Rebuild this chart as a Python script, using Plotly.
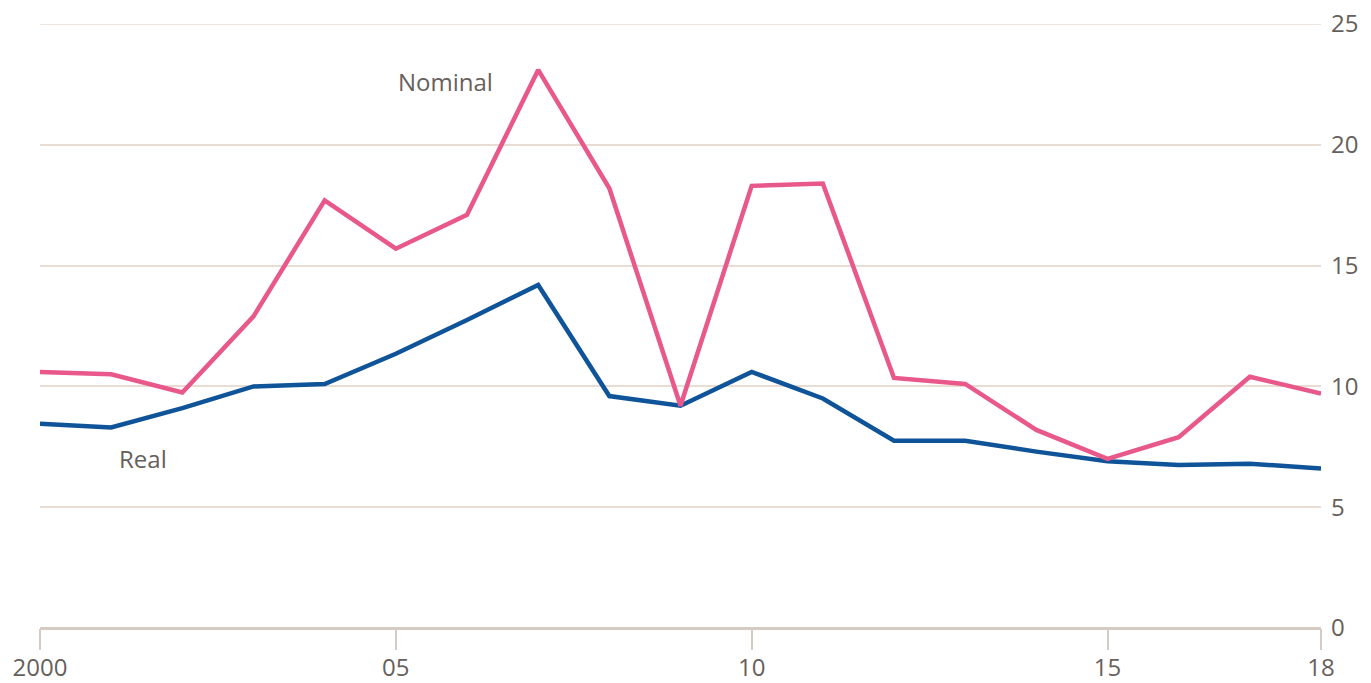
import plotly.graph_objects as go

years = list(range(2000, 2019))
nominal = [10.6, 10.5, 9.75, 12.9, 17.7, 15.7, 17.1, 23.1, 18.2, 9.2, 18.3, 18.4,
           10.35, 10.1, 8.2, 7.0, 7.9, 10.4, 9.7]
real = [8.45, 8.3, 9.1, 10.0, 10.1, 11.35, 12.75, 14.2, 9.6, 9.2, 10.6, 9.5,
        7.75, 7.75, 7.3, 6.9, 6.75, 6.8, 6.6]

x_tickvals = [2000, 2005, 2010, 2015, 2018]
x_ticktext = ["2000", "05", "10", "15", "18"]
y_tickvals = [0, 5, 10, 15, 20, 25]

PINK = "#e8588a"
BLUE = "#0f5499"
GRID = "#e9ddd3"
AXIS = "#d4cbc3"
TEXT = "#66605c"
FONT = "Open Sans, Noto Sans, sans-serif"

fig = go.Figure()
fig.add_trace(go.Scatter(x=years, y=real, mode="lines", name="Real",
                         line=dict(color=BLUE, width=4.5), hoverinfo="x+y",
                         cliponaxis=False))
fig.add_trace(go.Scatter(x=years, y=nominal, mode="lines", name="Nominal",
                         line=dict(color=PINK, width=4.5), hoverinfo="x+y",
                         cliponaxis=False))

fig.add_annotation(x=2005.7, y=22.6, text="Nominal", showarrow=False,
                   font=dict(family=FONT, size=24, color=TEXT))
fig.add_annotation(x=2001.45, y=7.0, text="Real", showarrow=False,
                   font=dict(family=FONT, size=24, color=TEXT))

# top gridline sits on the plot edge, so draw it explicitly
fig.add_shape(type="line", xref="paper", x0=0, x1=1, yref="y",
              y0=max(y_tickvals), y1=max(y_tickvals),
              line=dict(color=GRID, width=1.5), layer="below")

fig.update_layout(
    width=1371, height=683,
    margin=dict(l=40, r=50, t=24, b=55, autoexpand=False),
    paper_bgcolor="white", plot_bgcolor="white",
    showlegend=False,
    font=dict(family=FONT, size=24, color=TEXT),
    xaxis=dict(
        range=[2000, 2018], tickvals=x_tickvals, ticktext=x_ticktext,
        showgrid=False, zeroline=False, showline=False, automargin=False,
        ticks="outside", ticklen=21, tickwidth=2, tickcolor=AXIS,
        ticklabelstandoff=-3,
        tickfont=dict(size=24, color=TEXT),
    ),
    yaxis=dict(
        range=[0, 25], tickvals=y_tickvals, side="right", automargin=False,
        showgrid=True, gridcolor=GRID, gridwidth=1.5,
        zeroline=True, zerolinecolor=AXIS, zerolinewidth=2.5,
        showline=False, ticks="", ticklabelstandoff=9,
        tickfont=dict(size=24, color=TEXT),
    ),
)

fig.write_html("out.html")
